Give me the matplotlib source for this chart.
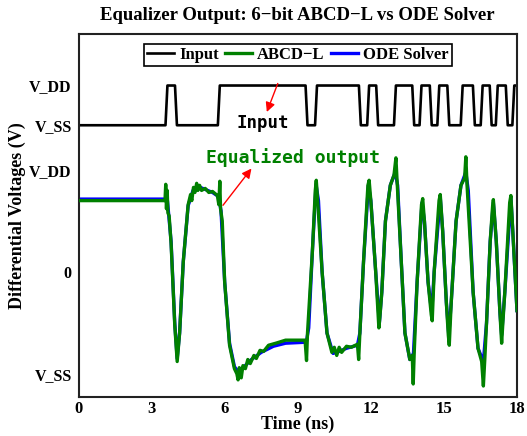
import matplotlib
matplotlib.use('Agg')
import matplotlib.pyplot as plt
import numpy as np

plt.rcParams['font.family'] = ['Liberation Serif', 'DejaVu Serif']
plt.rcParams['font.weight'] = 'bold'

# input bit stream: edge times (ns), starts low
in_edges = [3.61, 4.00, 5.76, 9.36, 9.75, 11.55, 11.89, 12.26, 12.99, 13.74,
            14.04, 14.46, 14.77, 15.18, 15.73, 16.23, 16.55, 16.92, 17.17,
            17.58, 17.85]

# ODE solver output (ns, normalized V)
ode_t = [0, 3.55, 3.65, 3.8, 3.95, 4.05, 4.15, 4.3, 4.5, 4.7, 4.9, 5.2, 5.5,
         5.75, 5.85, 6.0, 6.2, 6.4, 6.55, 6.8, 7.1, 7.5, 8.0, 8.5, 9.35, 9.45,
         9.6, 9.75, 9.85, 10.0, 10.2, 10.45, 10.7, 11.0, 11.45, 11.55, 11.7,
         11.9, 12.0, 12.2, 12.35, 12.45, 12.6, 12.8, 13.0, 13.1, 13.25, 13.4,
         13.6, 13.75, 13.9, 14.1, 14.2, 14.35, 14.5, 14.6, 14.85, 14.95, 15.1,
         15.2, 15.3, 15.5, 15.7, 15.9, 16.0, 16.2, 16.4, 16.62, 16.75, 16.9,
         17.03, 17.15, 17.3, 17.37, 17.5, 17.75, 17.85, 18.0]
ode_v = [0.715, 0.715, 0.70, 0.3, -0.5, -0.85, -0.6, 0.1, 0.65, 0.80, 0.84,
         0.81, 0.78, 0.74, 0.6, -0.1, -0.7, -0.93, -0.98, -0.93, -0.86, -0.79,
         -0.73, -0.70, -0.69, -0.55, 0.2, 0.86, 0.7, 0.0, -0.6, -0.8, -0.78,
         -0.75, -0.72, -0.6, 0.1, 0.85, 0.7, 0.0, -0.5, -0.2, 0.5, 0.85, 0.98,
         0.85, 0.1, -0.6, -0.86, -0.8, -0.1, 0.68, 0.5, -0.1, -0.4, 0.0, 0.73,
         0.4, -0.3, -0.62, -0.3, 0.5, 0.85, 0.98, 0.8, -0.2, -0.75, -0.88, -0.5,
         0.3, 0.68, 0.3, -0.4, -0.62, -0.2, 0.73, 0.3, -0.38]

# ABCD-L model output (noisier)
abcd_t = [0, 3.55, 3.58, 3.61, 3.64, 3.67, 3.72, 3.8, 3.95, 4.05, 4.15, 4.3,
          4.5, 4.6, 4.65, 4.72, 4.78, 4.85, 4.9, 4.97, 5.05, 5.2, 5.35, 5.5,
          5.7, 5.76, 5.80, 5.83, 5.9, 6.0, 6.2, 6.4, 6.5, 6.55, 6.6, 6.68, 6.75,
          6.85, 6.95, 7.05, 7.2, 7.3, 7.45, 7.6, 7.8, 8.1, 8.5, 9.3, 9.36, 9.40,
          9.6, 9.72, 9.76, 9.8, 10.0, 10.2, 10.4, 10.5, 10.6, 10.7, 10.8, 11.0,
          11.2, 11.45, 11.5, 11.55, 11.7, 11.88, 11.93, 12.0, 12.2, 12.33,
          12.37, 12.45, 12.6, 12.8, 12.95, 13.03, 13.08, 13.25, 13.4, 13.6,
          13.7, 13.74, 13.78, 13.9, 14.08, 14.13, 14.2, 14.35, 14.48, 14.52,
          14.6, 14.8, 14.85, 14.95, 15.1, 15.18, 15.22, 15.3, 15.5, 15.7, 15.85,
          15.9, 15.95, 16.2, 16.4, 16.55, 16.62, 16.68, 16.75, 16.9, 17.0,
          17.03, 17.15, 17.3, 17.37, 17.42, 17.5, 17.7, 17.75, 17.85, 18.0]
abcd_v = [0.70, 0.70, 0.86, 0.62, 0.80, 0.58, 0.55, 0.28, -0.52, -0.88, -0.6,
          0.1, 0.66, 0.76, 0.70, 0.83, 0.78, 0.87, 0.80, 0.85, 0.80, 0.82,
          0.78, 0.79, 0.75, 0.66, 0.89, 0.62, 0.5, -0.1, -0.72, -0.95, -1.0,
          -1.06, -0.94, -1.04, -0.92, -0.95, -0.86, -0.90, -0.82, -0.85, -0.77,
          -0.78, -0.72, -0.70, -0.67, -0.67, -0.87, -0.60, 0.2, 0.80, 0.90,
          0.76, 0.0, -0.6, -0.79, -0.74, -0.82, -0.74, -0.79, -0.73, -0.74,
          -0.71, -0.86, -0.6, 0.1, 0.85, 0.90, 0.70, 0.0, -0.55, -0.45, -0.2,
          0.5, 0.85, 0.95, 1.12, 0.88, 0.1, -0.6, -0.86, -0.82, -1.10, -0.8,
          -0.1, 0.66, 0.72, 0.5, -0.1, -0.42, -0.48, 0.0, 0.70, 0.76, 0.4,
          -0.3, -0.62, -0.72, -0.3, 0.5, 0.85, 0.92, 1.13, 0.85, -0.2, -0.75,
          -0.88, -1.12, -0.85, -0.5, 0.3, 0.65, 0.71, 0.3, -0.4, -0.70, -0.5,
          -0.2, 0.68, 0.75, 0.3, -0.38]

in_lo, in_hi = 1.44, 1.83
ramp = 0.04

# build input trace from edges
it = [0.0]
iv = [in_lo]
level = 0
for e in in_edges:
    cur = in_hi if level else in_lo
    level = 1 - level
    nxt = in_hi if level else in_lo
    it += [e - ramp, e + ramp]
    iv += [cur, nxt]
it.append(18.0)
iv.append(in_hi if level else in_lo)

fig = plt.figure(figsize=(5.27, 4.36), dpi=100)
ax = fig.add_axes([0.149, 0.089, 0.832, 0.834])

ax.plot(it, iv, color='black', lw=1.9, label='Input')
ax.plot(ode_t, ode_v, color='#0000ff', lw=2.4, label='ODE Solver', zorder=2)
ax.plot(abcd_t, abcd_v, color='#008000', lw=2.4, label='ABCD\u2212L', zorder=3)

ax.annotate('', xy=(7.73, 1.57), xytext=(8.18, 1.85),
            arrowprops=dict(arrowstyle='-|>', color='red', lw=1,
                            mutation_scale=14, shrinkA=0, shrinkB=0))
ax.text(7.57, 1.465, 'Input', family='DejaVu Sans Mono', fontweight='bold',
        fontsize=12.5, ha='center', va='center', color='black')
ax.annotate('', xy=(7.10, 1.015), xytext=(5.93, 0.654),
            arrowprops=dict(arrowstyle='-|>', color='red', lw=1,
                            mutation_scale=14, shrinkA=0, shrinkB=0))
ax.text(8.81, 1.126, 'Equalized output', family='DejaVu Sans Mono',
        fontweight='bold', fontsize=13, ha='center', va='center',
        color='#008000')

ax.set_xlim(0, 18)
ax.set_ylim(-1.23, 2.34)
ax.set_xticks([0, 3, 6, 9, 12, 15, 18])
ax.set_yticks([-1, 0, 1, in_lo, in_hi])
ax.set_yticklabels(['V_SS', '0', 'V_DD', 'V_SS', 'V_DD'])
ax.tick_params(length=0)
ax.tick_params(axis='x', pad=3, labelsize=12)
ax.tick_params(axis='y', pad=5, labelsize=11.5)
for s in ax.spines.values():
    s.set_linewidth(1.5)
    s.set_color('#222222')

ax.set_xlabel('Time (ns)', fontsize=13, fontweight='bold', labelpad=-1)
ax.set_ylabel('Differential Voltages (V)', fontsize=13, fontweight='bold',
              labelpad=2)
ax.set_title('Equalizer Output: 6\u2212bit ABCD\u2212L vs ODE Solver',
             fontsize=13.5, fontweight='bold', pad=10)

h, l = ax.get_legend_handles_labels()
order = [0, 2, 1]
leg = ax.legend([h[i] for i in order], [l[i] for i in order], loc='upper center',
                ncol=3, fontsize=12, fancybox=False, framealpha=1,
                edgecolor='black', handlelength=1.6, handletextpad=0.3,
                columnspacing=0.4, borderpad=0.2, borderaxespad=0.6)
leg.get_frame().set_linewidth(1.2)

fig.savefig('out.png', dpi=100)
